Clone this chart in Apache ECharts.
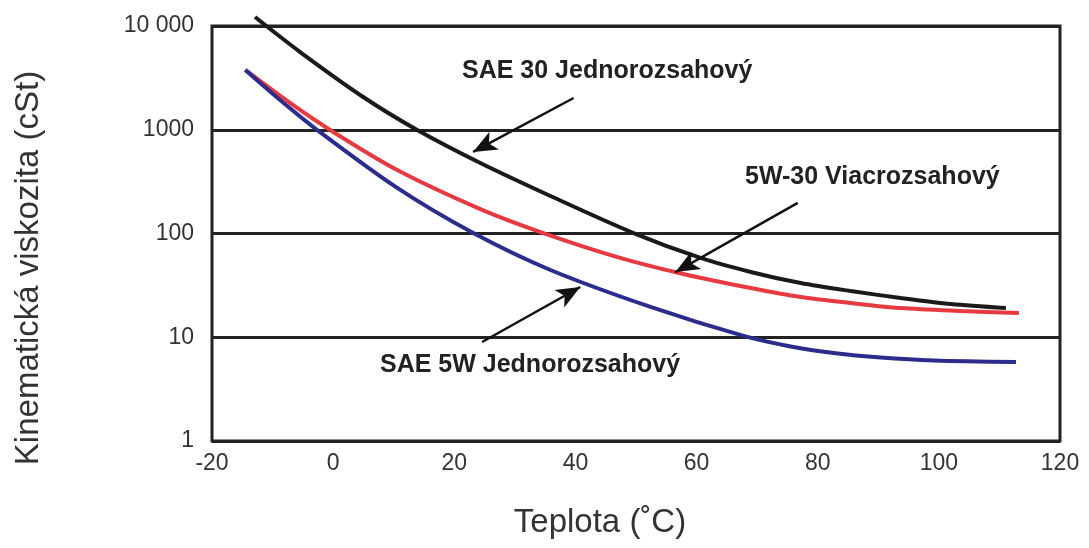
<!DOCTYPE html>
<html>
<head>
<meta charset="utf-8">
<script src="https://cdn.jsdelivr.net/npm/echarts@6/dist/echarts.min.js"></script>
<style>html,body{margin:0;padding:0;background:#fff}#c{width:1089px;height:548px}</style>
</head>
<body>
<div id="c"></div>
<script>
// Temperature (°C) / kinematic viscosity (cSt)
const sae30 = [[-12.9,12200],[-5.45,5610],[4.96,2070],[13.88,995],[24.3,478],[35.87,230],[49.59,101],[60.66,58.1],[68.93,42.6],[77.19,33.3],[85.45,27.9],[93.72,23.9],[101.98,20.9],[111.07,19.1]];
const w5w30 = [[-14.5,3770],[-7.11,1811],[-0.5,995],[10.58,409],[24.3,172],[34.71,101],[46.94,59.3],[57.85,40.7],[68.93,29.8],[77.19,24.4],[85.45,21.4],[93.72,19.1],[103.64,17.9],[113.22,17.1]];
const sae5w = [[-14.5,3770],[-8.76,1936],[-2.64,995],[10.58,275],[23.14,101],[35.87,44.5],[52.4,19.6],[67.77,10.3],[75.54,8.15],[82.64,7.05],[90.41,6.38],[99.17,5.97],[112.73,5.77]];
const seriesNames = ['SAE 30 Jednorozsahový', '5W-30 Viacrozsahový', 'SAE 5W Jednorozsahový'];
const xTitle = 'Teplota (˚C)';
const yTitle = 'Kinematická viskozita (cSt)';
const xTicks = {min: -20, max: 120, interval: 20};
const yTicks = {min: 1, max: 10000};
// arrows: [from, to] in data coordinates
const arrows = [
  [[39.7, 2023], [23.1, 611]],
  [[76.7, 197], [56.5, 42.5]],
  [[24.6, 9.0], [40.8, 30.5]]
];

const font = "'Liberation Sans', Arial, sans-serif";
const chart = echarts.init(document.getElementById('c'));
const lineSeries = (name, data, color) => ({
  name, type: 'line', data, smooth: 0.3, showSymbol: false, clip: false,
  lineStyle: {color, width: 4}, itemStyle: {color}, silent: true
});
chart.setOption({
  animation: false,
  backgroundColor: '#fff',
  grid: {left: 212, right: 29, top: 26, bottom: 107, show: true, borderColor: '#222', borderWidth: 3, backgroundColor: 'transparent'},
  xAxis: {
    type: 'value', min: xTicks.min, max: xTicks.max, interval: xTicks.interval,
    axisLine: {show: false}, axisTick: {show: false}, splitLine: {show: false},
    axisLabel: {fontFamily: font, fontSize: 23, color: '#333', margin: 11}
  },
  yAxis: {
    type: 'log', logBase: 10, min: yTicks.min, max: yTicks.max,
    axisLine: {show: false}, axisTick: {show: false},
    splitLine: {show: true, lineStyle: {color: '#222', width: 3}},
    axisLabel: {fontFamily: font, fontSize: 23, color: '#333', margin: 18,
      formatter: v => v >= 10000 ? String(v).replace(/(\d)(?=(\d{3})+$)/g, '$1 ') : String(v)}
  },
  series: [
    lineSeries(seriesNames[0], sae30, '#1a1a1a'),
    lineSeries(seriesNames[1], w5w30, '#e63940'),
    lineSeries(seriesNames[2], sae5w, '#2b2c8c'),
    {
      type: 'line', data: [], silent: true,
      markLine: {
        silent: true, symbol: ['none', 'arrow'], symbolSize: [15, 24],
        label: {show: false},
        lineStyle: {color: '#111', width: 2.5, type: 'solid'},
        data: arrows.map(a => [{coord: a[0]}, {coord: a[1]}])
      }
    }
  ],
  graphic: [
    {type: 'text', left: 462, top: 59, style: {text: seriesNames[0], font: 'bold 25px ' + font, fill: '#222'}},
    {type: 'text', left: 745, top: 165, style: {text: seriesNames[1], font: 'bold 25px ' + font, fill: '#222'}},
    {type: 'text', left: 380, top: 353, style: {text: seriesNames[2], font: 'bold 25px ' + font, fill: '#222'}},
    {type: 'text', x: 600, y: 523, style: {text: xTitle, font: '33px ' + font, fill: '#333', textAlign: 'center', textVerticalAlign: 'middle'}},
    {type: 'text', x: 29, y: 268, rotation: Math.PI / 2, style: {text: yTitle, font: '33px ' + font, fill: '#333', textAlign: 'center', textVerticalAlign: 'middle'}}
  ]
});
</script>
</body>
</html>
